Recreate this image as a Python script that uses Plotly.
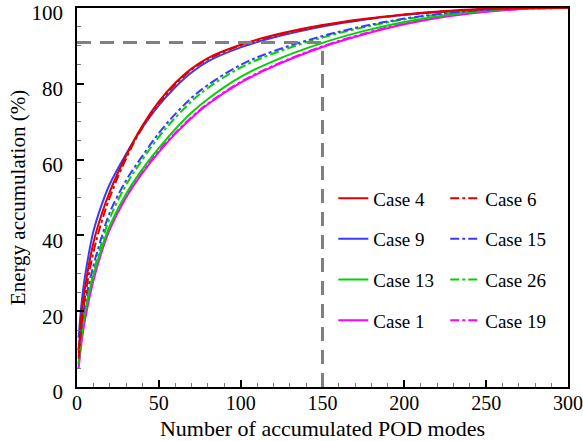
import plotly.graph_objects as go

modes = [1, 3, 5, 10, 15, 20, 30, 40, 50, 60, 70, 80, 100, 120, 150, 175, 200, 225, 250, 275, 300]

case4 = [9, 20, 26.5, 38, 45.5, 51.5, 61, 69, 75.3, 80.2, 84, 86.8, 90.3, 92.8, 95.5, 97.1, 98.3, 99.2, 99.8, 100, 100]
case6 = [7.5, 17, 24, 35.5, 43.5, 50, 60.3, 68.5, 74.8, 79.8, 83.7, 86.5, 90.1, 92.6, 95.3, 97, 98.2, 99.1, 99.7, 100, 100]
case9 = [13, 23, 29.5, 41, 48, 53.5, 61.5, 68.5, 74.3, 79.1, 83, 85.9, 89.6, 92.2, 95.1, 96.9, 98.2, 99.1, 99.7, 100, 100]
case15 = [10, 17, 22.5, 32, 39.5, 46, 54.5, 61, 67, 72, 76.3, 79.7, 85, 88.6, 92.6, 95.2, 97.2, 98.6, 99.5, 100, 100]
case13 = [6, 14.5, 20, 29.5, 36.5, 42.5, 51, 57.5, 63, 68, 72.4, 76, 81.8, 86, 90.8, 93.9, 96.3, 98.1, 99.3, 100, 100]
case26 = [8, 14.5, 20, 30, 38, 44.5, 53.3, 60, 66, 71, 75.4, 78.9, 84.3, 88, 92.2, 94.9, 97, 98.5, 99.4, 100, 100]
case1 = [5, 12.5, 18, 28, 35.5, 41.5, 50, 56.5, 62, 66.8, 71, 74.6, 80.3, 84.6, 89.7, 93, 95.7, 97.7, 99, 99.8, 100]
case19 = [6, 13.5, 19, 28.5, 36, 42, 50.3, 56.8, 62.3, 67, 71.2, 74.8, 80.5, 84.8, 89.9, 93.2, 95.9, 97.9, 99.1, 99.8, 100]

threshold_energy = 90.9
threshold_modes = 150

RED, BLUE, GREEN, MAG = "#e00000", "#3a3aff", "#00d400", "#ff00ff"
FONT = "Liberation Serif"

# (name, data, color, dash, legend, rank) -- drawn bottom to top
series = [
    ("Case 19", case19, MAG, "dashdot", "legend2", 4),
    ("Case 1", case1, MAG, "solid", "legend", 4),
    ("Case 26", case26, GREEN, "dashdot", "legend2", 3),
    ("Case 13", case13, GREEN, "solid", "legend", 3),
    ("Case 15", case15, BLUE, "dashdot", "legend2", 2),
    ("Case 9", case9, BLUE, "solid", "legend", 2),
    ("Case 6", case6, RED, "dashdot", "legend2", 1),
    ("Case 4", case4, RED, "solid", "legend", 1),
]

fig = go.Figure()
for name, vals, col, dash, leg, rank in series:
    fig.add_trace(go.Scatter(
        x=modes, y=vals, mode="lines", name=name,
        line=dict(color=col, width=2, dash=dash, shape="spline", smoothing=1.0),
        legend=leg, legendrank=rank, legendgroup=name,
    ))

fig.add_shape(type="line", x0=0, x1=threshold_modes, y0=threshold_energy, y1=threshold_energy,
              line=dict(color="#808080", width=3, dash="14px,9px"), layer="above")
fig.add_shape(type="line", x0=threshold_modes, x1=threshold_modes, y0=0, y1=threshold_energy,
              line=dict(color="#808080", width=3, dash="14px,9px"), layer="above")

legend_style = dict(
    font=dict(family=FONT, size=19, color="black"),
    bgcolor="rgba(0,0,0,0)", borderwidth=0,
    tracegroupgap=13, yanchor="top", xanchor="left", itemwidth=30,
)

fig.update_layout(
    width=583, height=441,
    margin=dict(l=77, r=15, t=8, b=54, autoexpand=False),
    paper_bgcolor="white", plot_bgcolor="white",
    font=dict(family=FONT, size=18, color="black"),
    showlegend=True,
    legend=dict(x=0.522, y=0.548, **legend_style),
    legend2=dict(x=0.75, y=0.548, **legend_style),
    xaxis=dict(
        range=[0, 300], tickvals=[0, 50, 100, 150, 200, 250, 300],
        showline=True, linecolor="black", linewidth=1.5, mirror=True,
        ticks="inside", ticklen=7, tickwidth=1.5, tickcolor="black",
        minor=dict(ticks="inside", dtick=10, ticklen=4, tickwidth=1, tickcolor="#777"),
        showgrid=False, zeroline=False, automargin=False,
        title=dict(text="Number of accumulated POD modes", font=dict(size=22), standoff=8),
        tickfont=dict(size=20), ticklabelstandoff=-3, ticklabeloverflow="allow",
    ),
    yaxis=dict(
        range=[0, 100], tickvals=[0, 20, 40, 60, 80, 100],
        showline=True, linecolor="black", linewidth=1.5, mirror=True,
        ticks="inside", ticklen=7, tickwidth=1.5, tickcolor="black",
        minor=dict(ticks="inside", dtick=5, ticklen=4, tickwidth=1, tickcolor="#777"),
        showgrid=False, zeroline=False, automargin=False,
        title=dict(text="Energy accumulation (%)", font=dict(size=21), standoff=0),
        tickfont=dict(size=21), ticklabelstandoff=8, ticklabelshift=5,
        ticklabeloverflow="allow",
    ),
)

# remove the default 8px body margin so the figure fills the 583x441 window exactly
fig.write_html("out.html", config={"displayModeBar": False},
               post_script="document.body.style.margin='0';")
